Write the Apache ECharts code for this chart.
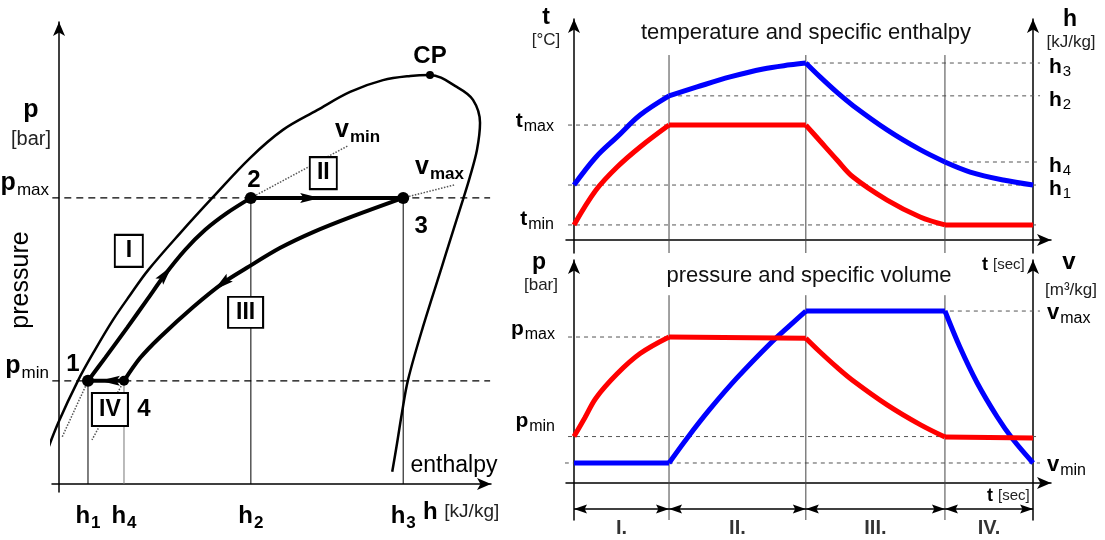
<!DOCTYPE html>
<html>
<head>
<meta charset="utf-8">
<title>Refrigeration cycle: p-h diagram and time histories</title>
<script src="https://cdn.jsdelivr.net/npm/echarts@6.0.0/dist/echarts.min.js"></script>
<style>
html, body { margin: 0; padding: 0; background: #fff; }
#chart { width: 1105px; height: 540px; }
</style>
</head>
<body>
<div id="chart"></div>
<script>
const FONT = '"Liberation Sans", Arial, Helvetica, sans-serif';
const INK = '#000';

/* ---------- p-h diagram (schematic units) ---------- */
const hStates = [6.6, 14.8, 43.7, 78.4];          // h1, h4, h2, h3
const hStateNames = ['1', '4', '2', '3'];
const pMin = 22.0;
const pMax = 61.0;
const criticalPoint = [84.5, 87.2];
const saturationDome = [
  [-3.2, 5.8], [-0.2, 13.0], [4.3, 22.0], [8.2, 28.6], [12.3, 35.0], [16.2, 40.3],
  [20.3, 45.6], [27.6, 53.5], [34.9, 61.0], [43.5, 69.5], [51.0, 75.5], [58.8, 79.7],
  [66.3, 83.6], [73.8, 86.1], [80.0, 87.0], [84.5, 87.2], [90.7, 84.6], [94.3, 81.9],
  [95.9, 77.0], [95.2, 71.2], [93.6, 65.5], [92.0, 60.6], [89.1, 52.0], [87.2, 46.3],
  [82.9, 33.5], [79.5, 22.2], [78.1, 15.1], [77.0, 8.7], [75.9, 2.6]
];
// interior points of the two curved processes
const compressionInner = [[10.5, 26.9], [15.5, 33.3], [20.0, 39.2], [24.1, 44.6], [28.7, 49.9], [33.3, 54.2], [38.3, 57.8]];
const expansionInner = [[67.0, 57.1], [57.9, 53.7], [50.3, 50.3], [42.8, 46.1], [37.4, 42.9], [30.5, 37.7], [23.0, 31.3], [18.5, 26.9]];
// far ends of the dotted isochores through each state
const isochoreEnds = { '1': [0.7, 10.0], '4': [7.5, 9.4], '2': [65.8, 72.1], '3': [90.2, 63.8] };
const processBoxes = [['I', 15.9, 49.7], ['II', 60.2, 66.3], ['III', 42.5, 36.6], ['IV', 11.6, 15.9]];

/* ---------- time histories (schematic units) ---------- */
const phaseBounds = [0, 20.7, 50.5, 80.8, 100];
const phaseNames = ['I.', 'II.', 'III.', 'IV.'];
const tMin = 6.6, tMax = 50.4;
const hLevels = [24.1, 34.2, 63.2, 77.6];         // h1, h4, h2, h3
const hLevelNames = ['1', '4', '2', '3'];
const temperature = [[0, 6.6], [4.8, 21.9], [9.4, 32.0], [14.4, 40.8], [20.7, 50.4], [50.5, 50.4],
  [53.6, 43.4], [57.3, 35.1], [60.8, 27.6], [68.2, 17.5], [75.4, 10.1], [80.8, 6.6], [100, 6.6]];
const enthalpy = [[0, 24.1], [4.8, 36.4], [9.4, 45.2], [14.4, 54.8], [20.7, 63.2], [26.8, 67.1],
  [34.0, 71.5], [41.2, 75.0], [47.1, 76.8], [50.5, 77.6], [53.6, 71.5], [57.3, 64.7], [60.8, 58.9],
  [68.2, 48.3], [75.4, 39.6], [80.8, 34.2], [86.3, 29.8], [93.5, 26.3], [100, 24.1]];
const pLow = 20.2, pHigh = 63.5;
const vMin = 8.7, vMax = 74.8;
const pressure = [[0, 20.2], [2.4, 28.5], [4.8, 37.0], [9.4, 47.5], [14.4, 56.3], [20.7, 63.5], [50.5, 63.0],
  [53.6, 57.0], [57.3, 50.3], [60.8, 44.5], [68.2, 34.0], [75.4, 25.4], [80.8, 20.0], [100, 19.6]];
const volume = [[0, 8.7], [20.7, 8.7], [24.6, 19.4], [29.6, 32.1], [35.5, 45.7], [42.7, 60.6],
  [47.1, 68.7], [50.5, 74.8], [80.8, 74.8], [84.1, 58.9], [87.8, 43.6], [92.2, 28.7], [95.6, 19.0], [100, 8.7]];

/* ---------- layout constants ---------- */
const phGuideSpan = [-7.0, 98.2];
const timeGuideStart = -1.3, timeGuideEnd = 101.5;
const topPhaseLineTop = 81.1, bottomPhaseLineTop = 81.7;
const intervalLevel = -11.3, phaseLabelLevel = -19.6;
// label order on the enthalpy axis: the two closest levels are not placed next to each other in the list
const hTickOrder = [0, 2, 3, 1];

/* ---------- helpers ---------- */
const state = {
  '1': [hStates[0], pMin], '4': [hStates[1], pMin],
  '2': [hStates[2], pMax], '3': [hStates[3], pMax]
};
const compressionPath = [state['1']].concat(compressionInner, [state['2']]);
const expansionPath = [state['3']].concat(expansionInner, [state['4']]);
const highIsobar = [state['2'], state['3']];
const lowIsobar = [state['4'], state['1']];

const series = [];
function line(xi, yi, data, lineStyle, extra) {
  series.push(Object.assign({
    type: 'line', xAxisIndex: xi, yAxisIndex: yi, data: data, symbol: 'none',
    silent: true, clip: false, animation: false, z: 2, lineStyle: lineStyle
  }, extra || {}));
}
function phaseSegments(data) {
  const segs = []; let cur = [data[0]];
  for (let i = 1; i < data.length; i++) {
    cur.push(data[i]);
    if (i < data.length - 1 && phaseBounds.indexOf(data[i][0]) > 0) { segs.push(cur); cur = [data[i]]; }
  }
  segs.push(cur);
  return segs;
}
function along(path, i, f) {
  const a = path[i], b = path[i + 1];
  return [a[0] + (b[0] - a[0]) * f, a[1] + (b[1] - a[1]) * f, a[0], a[1]];
}
function arrowheads(xi, yi, data, len, half, color) {
  return {
    type: 'custom', xAxisIndex: xi, yAxisIndex: yi, data: data, silent: true, animation: false,
    clip: false, z: 6, dimensions: ['x', 'y', 'bx', 'by'], encode: { x: 0, y: 1 },
    renderItem: function (params, api) {
      const tip = api.coord([api.value(0), api.value(1)]);
      const back = api.coord([api.value(2), api.value(3)]);
      let dx = tip[0] - back[0], dy = tip[1] - back[1];
      const d = Math.hypot(dx, dy) || 1; dx /= d; dy /= d;
      const nx = -dy, ny = dx;
      const bx = tip[0] - dx * len, by = tip[1] - dy * len;
      const notch = [tip[0] - dx * len * 0.82, tip[1] - dy * len * 0.82];
      return {
        type: 'polygon',
        shape: { points: [tip, [bx + nx * half, by + ny * half], notch, [bx - nx * half, by - ny * half]] },
        style: { fill: color }
      };
    }
  };
}
function symbolRich(mainSize, subSize, subWeight, drop, lifts) {
  const rich = {};
  lifts.forEach(function (lift, k) {
    const up = Math.max(0, lift), down = Math.max(0, -lift);
    rich['b' + k] = { fontSize: mainSize, fontWeight: 'bold', fontFamily: FONT, color: INK,
      lineHeight: mainSize + 4, padding: [down, 0, up, 0] };
    rich['s' + k] = { fontSize: subSize, fontWeight: subWeight, fontFamily: FONT, color: INK,
      lineHeight: subSize, padding: [drop + down, 0, up, 1] };
  });
  return rich;
}
function subTick(values, main, subs, liftIdx) {
  return function (v) {
    let k = 0, best = Infinity;
    values.forEach(function (x, i) { const d = Math.abs(x - v); if (d < best) { best = d; k = i; } });
    const li = liftIdx ? liftIdx[k] : 0;
    return '{b' + li + '|' + main + '}{s' + li + '|' + subs[k] + '}';
  };
}
function axisLine(extra) {
  return Object.assign({ show: true, onZero: true, symbol: ['none', 'arrow'], symbolSize: [9, 14],
    lineStyle: { color: '#000', width: 1.5 } }, extra || {});
}
function tickLabels(values, margin, formatter, rich, extra) {
  return Object.assign({ customValues: values, margin: margin, formatter: formatter, rich: rich,
    hideOverlap: false, showMinLabel: true, showMaxLabel: true }, extra || {});
}
const noTicks = { show: false };
const noSplit = { show: false };

/* ---------- p-h diagram series (grid 0) ---------- */
const dashBlack = { color: '#000', width: 1.3, type: [7, 5] };
line(0, 0, [[phGuideSpan[0], pMax], [phGuideSpan[1], pMax]], dashBlack);
line(0, 0, [[phGuideSpan[0], pMin], [phGuideSpan[1], pMin]], dashBlack);
['1', '4', '2', '3'].forEach(function (k) {
  line(0, 0, [state[k], [state[k][0], 0]], { color: k === '4' ? '#777' : '#000', width: 1 });
});
Object.keys(isochoreEnds).forEach(function (k) {
  line(0, 0, [state[k], isochoreEnds[k]], { color: '#555', width: 1.5, type: 'dotted' });
});
line(0, 0, saturationDome, { color: '#000', width: 2.5 }, { smooth: 0.35, z: 3 });
line(0, 0, compressionPath, { color: '#000', width: 4 }, { smooth: 0.3, z: 4 });
line(0, 0, highIsobar, { color: '#000', width: 4 }, { z: 4 });
line(0, 0, expansionPath, { color: '#000', width: 4 }, { smooth: 0.3, z: 4 });
line(0, 0, lowIsobar, { color: '#000', width: 4 }, { z: 4 });
series.push(arrowheads(0, 0, [
  along(compressionPath, 4, 0.35), along(highIsobar, 0, 0.455),
  along(expansionPath, 5, 0.3), along(lowIsobar, 0, 0.67)
], 20, 5, '#000'));

const pointLabelOffset = { '1': [-15, -16], '2': [3, -18], '3': [18, 28], '4': [20, 29], 'CP': [0, -19] };
const pointSize = { '1': 12, '2': 12, '3': 12, '4': 10, 'CP': 8 };
series.push({
  type: 'scatter', xAxisIndex: 0, yAxisIndex: 0, z: 7, silent: true, animation: false, clip: false,
  itemStyle: { color: '#000', opacity: 1 },
  label: { show: true, position: 'inside', formatter: '{b}', color: INK, fontSize: 24,
    fontWeight: 'bold', fontFamily: FONT },
  data: ['1', '2', '3', '4'].map(function (k) {
    return { name: k, value: state[k], symbolSize: pointSize[k], label: { offset: pointLabelOffset[k] } };
  }).concat([{ name: 'CP', value: criticalPoint, symbolSize: pointSize.CP, label: { offset: pointLabelOffset.CP } }])
});
const boxSize = { 'I': [28, 32], 'II': [27, 32], 'III': [35, 31], 'IV': [36, 33] };
series.push({
  type: 'scatter', xAxisIndex: 0, yAxisIndex: 0, z: 8, silent: true, animation: false, clip: false,
  symbol: 'rect',
  itemStyle: { color: '#fff', borderColor: '#000', borderWidth: 2, opacity: 1 },
  label: { show: true, position: 'inside', formatter: '{b}', color: INK, fontSize: 23,
    fontWeight: 'bold', fontFamily: FONT },
  data: processBoxes.map(function (b) { return { name: b[0], value: [b[1], b[2]], symbolSize: boxSize[b[0]] }; })
});

/* ---------- time-history series (grids 1 and 2) ---------- */
const dashGrey = { color: '#555', width: 1, type: [4, 4] };
const phaseLine = { color: '#444', width: 1 };
const curveSmooth = 0.35;
// temperature / enthalpy
[[tMax, timeGuideStart, phaseBounds[2]], [tMin, timeGuideStart, timeGuideEnd]].forEach(function (g) {
  line(1, 1, [[g[1], g[0]], [g[2], g[0]]], dashGrey, { z: 1 });
});
[[hLevels[0], timeGuideStart], [hLevels[1], phaseBounds[3]], [hLevels[2], phaseBounds[1] - 1.5],
 [hLevels[3], phaseBounds[2]]].forEach(function (g) {
  line(1, 2, [[g[1], g[0]], [timeGuideEnd, g[0]]], dashGrey, { z: 1 });
});
phaseBounds.slice(1, 4).forEach(function (b) {
  line(1, 1, [[b, topPhaseLineTop], [b, -5.7]], phaseLine, { z: 1 });
});
phaseSegments(enthalpy).forEach(function (s) {
  line(1, 2, s, { color: '#0000ff', width: 5 }, { smooth: curveSmooth, z: 3 });
});
phaseSegments(temperature).forEach(function (s) {
  line(1, 1, s, { color: '#ff0000', width: 5 }, { smooth: curveSmooth, z: 4 });
});
// pressure / specific volume
[[pHigh, timeGuideStart, phaseBounds[2]], [pLow, timeGuideStart, timeGuideEnd]].forEach(function (g) {
  line(2, 3, [[g[1], g[0]], [g[2], g[0]]], dashGrey, { z: 1 });
});
[[vMin, -2.0], [vMax, phaseBounds[2]]].forEach(function (g) {
  line(2, 4, [[g[1], g[0]], [timeGuideEnd, g[0]]], dashGrey, { z: 1 });
});
phaseBounds.slice(1, 4).forEach(function (b) {
  line(2, 3, [[b, bottomPhaseLineTop], [b, -16.1]], phaseLine, { z: 1 });
});
phaseSegments(volume).forEach(function (s) {
  line(2, 4, s, { color: '#0000ff', width: 5 }, { smooth: curveSmooth, z: 3 });
});
phaseSegments(pressure).forEach(function (s) {
  line(2, 3, s, { color: '#ff0000', width: 5 }, { smooth: curveSmooth, z: 4 });
});
// phase intervals
line(2, 3, [[phaseBounds[0], intervalLevel], [phaseBounds[4], intervalLevel]], { color: '#000', width: 1.5 });
const intervalHeads = [];
for (let i = 0; i < 4; i++) {
  intervalHeads.push([phaseBounds[i], intervalLevel, phaseBounds[i] + 3, intervalLevel]);
  intervalHeads.push([phaseBounds[i + 1], intervalLevel, phaseBounds[i + 1] - 3, intervalLevel]);
}
series.push(arrowheads(2, 3, intervalHeads, 13, 4.5, '#000'));
series.push({
  type: 'scatter', xAxisIndex: 2, yAxisIndex: 3, silent: true, animation: false, clip: false,
  symbolSize: 1, itemStyle: { color: 'rgba(0,0,0,0)' },
  label: { show: true, position: 'inside', formatter: '{b}', color: INK, fontSize: 20,
    fontWeight: 'bold', fontFamily: FONT },
  data: phaseNames.map(function (n, i) {
    return { name: n, value: [(phaseBounds[i] + phaseBounds[i + 1]) / 2, phaseLabelLevel] };
  })
});

/* ---------- free text ---------- */
function txt(x, y, text, size, style) {
  return { type: 'text', x: x, y: y, silent: true, z: 10,
    style: Object.assign({ text: text, fontSize: size, fontFamily: FONT, fill: INK,
      align: 'center', verticalAlign: 'middle' }, style || {}) };
}
const unitStyle = { fill: '#222' };
const nameRich = function (mainSize, subSize, subWeight) {
  return {
    b: { fontSize: mainSize, fontWeight: 'bold', fontFamily: FONT, fill: INK, lineHeight: mainSize + 4 },
    s: { fontSize: subSize, fontWeight: subWeight, fontFamily: FONT, fill: INK, lineHeight: subSize, padding: [14, 0, 0, 1] },
    u: { fontSize: subSize, fontFamily: FONT, fill: '#222' }
  };
};
const graphics = [
  // p-h diagram
  txt(31, 110, 'p', 25, { fontWeight: 'bold' }),
  txt(31, 139, '[bar]', 20, unitStyle),
  Object.assign(txt(21, 280, 'pressure', 25), { rotation: Math.PI / 2 }),
  txt(454, 466, 'enthalpy', 23),
  txt(423, 512, '{b|h} {u|[kJ/kg]}', 24, { align: 'left', rich: nameRich(24, 19, 'normal') }),
  txt(335, 130, '{b|v}{s|min}', 25, { align: 'left', rich: nameRich(25, 17, 'bold') }),
  txt(415, 167, '{b|v}{s|max}', 25, { align: 'left', rich: nameRich(25, 17, 'bold') }),
  // time histories
  txt(806, 33, 'temperature and specific enthalpy', 22, { fill: '#111' }),
  txt(809, 276, 'pressure and specific volume', 22, { fill: '#111' }),
  txt(546, 18, 't', 23, { fontWeight: 'bold' }),
  txt(546, 40, '[°C]', 17, unitStyle),
  txt(1070, 20, 'h', 23, { fontWeight: 'bold' }),
  txt(1071, 42, '[kJ/kg]', 17, unitStyle),
  txt(539, 263, 'p', 23, { fontWeight: 'bold' }),
  txt(541, 285, '[bar]', 17, unitStyle),
  txt(1069, 262, 'v', 24, { fontWeight: 'bold' }),
  txt(1071, 290, '[m³/kg]', 17, unitStyle),
  txt(982, 265, '{b|t} {u|[sec]}', 18, { align: 'left', rich: nameRich(18, 15, 'normal') }),
  txt(987, 496, '{b|t} {u|[sec]}', 18, { align: 'left', rich: nameRich(18, 15, 'normal') })
];

/* ---------- axes ---------- */
const timeX = function (gi) {
  return { type: 'value', gridIndex: gi, min: -1.74, max: 103.9, axisLine: axisLine(),
    axisTick: noTicks, splitLine: noSplit, axisLabel: { show: false } };
};
const hTickValues = hTickOrder.map(function (i) { return hLevels[i]; });
const option = {
  animation: false,
  backgroundColor: '#fff',
  textStyle: { fontFamily: FONT },
  grid: [
    { left: 52, top: 22, width: 439, height: 470, outerBoundsMode: 'none' },
    { left: 566, top: 19, width: 485, height: 234, outerBoundsMode: 'none' },
    { left: 566, top: 260, width: 485, height: 260, outerBoundsMode: 'none' }
  ],
  xAxis: [
    { type: 'value', gridIndex: 0, min: -1.6, max: 98.4, axisLine: axisLine(), axisTick: noTicks,
      splitLine: noSplit,
      axisLabel: tickLabels(hStates, 10, subTick(hStates, 'h', hStateNames), symbolRich(24, 17, 'bold', 14, [0])) },
    timeX(1),
    timeX(2)
  ],
  yAxis: [
    { type: 'value', gridIndex: 0, min: -1.7, max: 98.5, axisLine: axisLine(), axisTick: noTicks,
      splitLine: noSplit,
      axisLabel: tickLabels([pMin, pMax], 3, subTick([pMin, pMax], 'p', ['min', 'max']),
        symbolRich(25, 17, 'normal', 14, [0]), { verticalAlign: 'bottom' }) },
    { type: 'value', gridIndex: 1, min: -5.7, max: 96.9, position: 'left', axisLine: axisLine(),
      axisTick: noTicks, splitLine: noSplit,
      axisLabel: tickLabels([tMin, tMax], 12, subTick([tMin, tMax], 't', ['min', 'max'], [0, 1]),
        symbolRich(21, 16, 'normal', 11, [12, 8])) },
    { type: 'value', gridIndex: 1, min: -5.7, max: 96.9, position: 'right', offset: -18,
      axisLine: axisLine({ onZero: false }), axisTick: noTicks, splitLine: noSplit,
      axisLabel: tickLabels(hTickValues, 16, subTick(hLevels, 'h', hLevelNames),
        symbolRich(21, 15, 'normal', 10, [-8])) },
    { type: 'value', gridIndex: 2, min: -16.1, max: 97, position: 'left', axisLine: axisLine(),
      axisTick: noTicks, splitLine: noSplit,
      axisLabel: tickLabels([pLow, pHigh], 11, subTick([pLow, pHigh], 'p', ['min', 'max'], [0, 1]),
        symbolRich(21, 16, 'normal', 11, [30, 16])) },
    { type: 'value', gridIndex: 2, min: -16.1, max: 97, position: 'right', offset: -18,
      axisLine: axisLine({ onZero: false }), axisTick: noTicks, splitLine: noSplit,
      axisLabel: tickLabels([vMin, vMax], 14, subTick([vMin, vMax], 'v', ['min', 'max']),
        symbolRich(22, 16, 'normal', 11, [-4])) }
  ],
  series: series,
  graphic: graphics
};

const chart = echarts.init(document.getElementById('chart'), null, { renderer: 'canvas' });
chart.setOption(option);
</script>
</body>
</html>
